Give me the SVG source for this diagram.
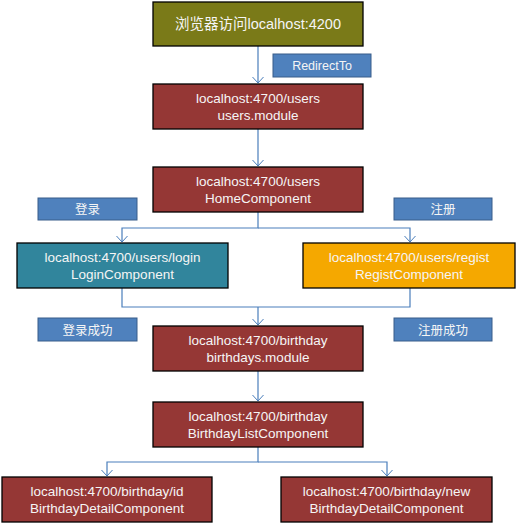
<svg xmlns="http://www.w3.org/2000/svg" width="517" height="525" viewBox="0 0 517 525">
<defs>
<marker id="arr" markerUnits="userSpaceOnUse" markerWidth="12" markerHeight="12" refX="7" refY="6" orient="auto" overflow="visible">
<path d="M1,0.5 L7,6 L1,11.5" fill="none" stroke="#4A7EBB" stroke-width="1"/>
</marker>
<style>
.box{stroke:#000;stroke-width:1.3}
.red{fill:#953735}
.lbl{fill:#4F81BD;stroke:#385D8A;stroke-width:1}
.t{font-family:"Liberation Sans","Noto Sans CJK SC",sans-serif;fill:#F5F5F5;text-anchor:middle;font-size:13.5px}
.tl{font-family:"Liberation Sans","Noto Sans CJK SC",sans-serif;fill:#F5F5F5;text-anchor:middle;font-size:12.5px}
.c{fill:none;stroke:#4A7EBB;stroke-width:1.2}
</style>
</defs>
<rect width="517" height="525" fill="#fff"/>
<g id="connectors">
<path class="c" d="M258,46 V83" marker-end="url(#arr)"/>
<path class="c" d="M258,129 V166" marker-end="url(#arr)"/>
<path class="c" d="M258,212 V228 H122 V242" marker-end="url(#arr)"/>
<path class="c" d="M258,228 H410 V242" marker-end="url(#arr)"/>
<path class="c" d="M122,288 V307 H410 V288"/>
<path class="c" d="M258,307 V325" marker-end="url(#arr)"/>
<path class="c" d="M258,371 V401" marker-end="url(#arr)"/>
<path class="c" d="M258,447 V462 H107 V476" marker-end="url(#arr)"/>
<path class="c" d="M258,462 H387 V476" marker-end="url(#arr)"/>
</g>
<g id="start">
<rect class="box" x="153" y="2" width="210" height="44" fill="#7A7A18"/>
<text class="t" x="258" y="29" style="font-size:14.5px">浏览器访问localhost:4200</text>
</g>
<g id="lbl-redirect">
<rect class="lbl" x="273" y="54" width="98" height="23"/>
<text class="tl" x="322" y="70">RedirectTo</text>
</g>
<g id="users-module">
<rect class="box red" x="153" y="84" width="210" height="45"/>
<text class="t" x="258" y="103">localhost:4700/users</text>
<text class="t" x="258" y="119.5">users.module</text>
</g>
<g id="home">
<rect class="box red" x="153" y="167" width="210" height="45"/>
<text class="t" x="258" y="186">localhost:4700/users</text>
<text class="t" x="258" y="202.5">HomeComponent</text>
</g>
<g id="lbl-login">
<rect class="lbl" x="38" y="198" width="99" height="22"/>
<text class="tl" x="87.5" y="214">登录</text>
</g>
<g id="lbl-regist">
<rect class="lbl" x="394" y="198" width="98" height="22"/>
<text class="tl" x="443" y="214">注册</text>
</g>
<g id="login">
<rect class="box" x="17" y="243" width="211" height="45" fill="#31859C"/>
<text class="t" x="122.5" y="262">localhost:4700/users/login</text>
<text class="t" x="122.5" y="278.5">LoginComponent</text>
</g>
<g id="regist">
<rect class="box" x="303" y="243" width="212" height="45" fill="#F5A800"/>
<text class="t" x="409" y="262">localhost:4700/users/regist</text>
<text class="t" x="409" y="278.5">RegistComponent</text>
</g>
<g id="lbl-login-ok">
<rect class="lbl" x="38" y="318" width="99" height="23"/>
<text class="tl" x="87.5" y="334.5">登录成功</text>
</g>
<g id="lbl-regist-ok">
<rect class="lbl" x="394" y="318" width="98" height="23"/>
<text class="tl" x="443" y="334.5">注册成功</text>
</g>
<g id="birthdays-module">
<rect class="box red" x="153" y="326" width="210" height="45"/>
<text class="t" x="258" y="345">localhost:4700/birthday</text>
<text class="t" x="258" y="361.5">birthdays.module</text>
</g>
<g id="birthday-list">
<rect class="box red" x="153" y="402" width="210" height="45"/>
<text class="t" x="258" y="421">localhost:4700/birthday</text>
<text class="t" x="258" y="437.5">BirthdayListComponent</text>
</g>
<g id="detail-id">
<rect class="box red" x="2" y="477" width="210" height="45"/>
<text class="t" x="107" y="496">localhost:4700/birthday/id</text>
<text class="t" x="107" y="512.5">BirthdayDetailComponent</text>
</g>
<g id="detail-new">
<rect class="box red" x="281" y="477" width="211" height="45"/>
<text class="t" x="386.5" y="496">localhost:4700/birthday/new</text>
<text class="t" x="386.5" y="512.5">BirthdayDetailComponent</text>
</g>
</svg>
